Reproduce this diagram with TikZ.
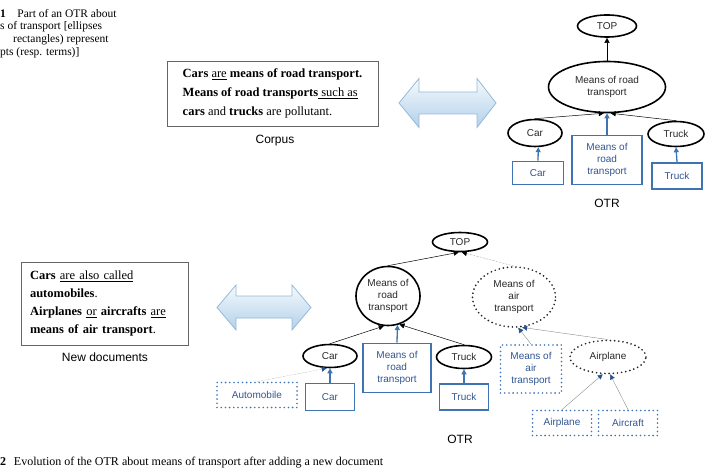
\documentclass[tikz,border=0pt]{standalone}
\usepackage{fontspec}
\setmainfont{Liberation Serif}
\newfontfamily\lsans{Liberation Sans}
\usetikzlibrary{shapes.geometric,arrows.meta}
\definecolor{tblue}{RGB}{62,116,178}
\definecolor{ttext}{RGB}{50,85,145}
\definecolor{ctext}{RGB}{40,40,40}
\definecolor{arrtop}{RGB}{245,250,253}
\definecolor{arrbot}{RGB}{178,208,234}
\definecolor{arredge}{RGB}{150,185,215}
\definecolor{linkgray}{RGB}{140,140,140}
\definecolor{headblue}{RGB}{40,80,140}
\begin{document}
\begin{tikzpicture}[x=1pt,y=-1pt,
 lab/.style={font=\lsans\fontsize{10}{12}\selectfont,align=center,inner sep=0pt},
 concept/.style={lab,ellipse,draw=black,line width=1.6pt,text=ctext},
 nconcept/.style={concept,draw=black!85,line width=1.9pt,line cap=round,dash pattern=on 0pt off 4.2pt},
 term/.style={lab,rectangle,draw=tblue,line width=1.9pt,text=ttext},
 nterm/.style={term,line width=1.8pt,line cap=round,dash pattern=on 0pt off 4.2pt},
 isa/.style={-{Triangle[length=5pt,width=5pt]},black,line width=0.5pt},
 tlink/.style={-{Triangle[length=5pt,width=5pt]},tblue,line width=1.3pt},
 nlink/.style={-{Triangle[length=5pt,width=5pt,color=headblue]},linkgray,line width=0.4pt},
 ndlink/.style={nlink,densely dotted},
 nisa/.style={-{Triangle[length=5pt,width=5pt,color=black]},linkgray,line width=0.5pt,densely dotted},
 txtbox/.style={draw=black!60,line width=0.7pt,align=left,inner sep=0pt},
 titletext/.style={font=\lsans\fontsize{12}{13}\selectfont,inner sep=0pt},
 captext/.style={font=\fontsize{11.5}{13}\selectfont,anchor=west,inner sep=0pt},
 dblarrow/.style={top color=arrtop,bottom color=arrbot,draw=arredge,line width=0.8pt,line join=miter}
]
\useasboundingbox (0,0) rectangle (706,470);

% captions (clipped in the reference)
\node[captext] (c1) at (0,13.5) {\textbf{1}\hspace{1em}Part of an OTR about};
\node[captext] (c2) at (0,26.5) {s of transport [ellipses};
\node[captext] (c3) at (13,39.5) {rectangles) represent};
\node[captext] (c4) at (0,52.5) {pts (resp. terms)]};
\node[captext,font=\fontsize{12}{13}\selectfont] (c5) at (0,463) {\textbf{2}\hspace{0.65em}Evolution of the OTR about means of transport after adding a new document};

% corpus box
\node[txtbox,minimum width=211pt,minimum height=65pt,font=\fontsize{12.5}{18.8}\selectfont] (corpus) at (272.5,93.5)
 {\textbf{Cars} \underline{are} \textbf{means of road transport.}\\
  \textbf{Means of road transports}\underline{ such as}\\
  \textbf{cars} and \textbf{trucks} are pollutant.};
\node[titletext] (corpusl) at (275,141) {Corpus};

% new documents box
\node[txtbox,minimum width=167pt,minimum height=83pt,text width=149pt,font=\fontsize{12.5}{17.7}\selectfont] (newdoc) at (104.5,303.5)
 {\textbf{Cars} \underline{are also called}\\
  \textbf{automobiles}.\\
  \textbf{Airplanes} \underline{or} \textbf{aircrafts} \underline{are}\\
  \textbf{means of air transport}.};
\node[titletext] (newdocl) at (105,357) {New documents};

% double arrows
\shade[dblarrow] (399,103) -- (419,78.5) -- (419,92) -- (477,92) -- (477,78.5) -- (496,103)
  -- (477,127.5) -- (477,114) -- (419,114) -- (419,127.5) -- cycle;
\shade[dblarrow] (217,307.5) -- (236,285) -- (236,296) -- (292,296) -- (292,285) -- (311,307.5)
  -- (292,330) -- (292,318) -- (236,318) -- (236,330) -- cycle;

% ---------- first OTR ----------
\node[concept,minimum width=59pt,minimum height=22pt] (top1) at (607,26) {TOP};
\node[concept,minimum width=117pt,minimum height=51pt] (mrt1) at (607,87) {Means of road\\transport};
\node[concept,minimum width=54pt,minimum height=27pt] (car1) at (535,133) {Car};
\node[concept,minimum width=56pt,minimum height=25pt] (truck1) at (676,134) {Truck};
\node[term,minimum width=51pt,minimum height=23pt] (carT1) at (538,173) {Car};
\node[term,minimum width=70pt,minimum height=49pt] (mrtT1) at (607,160) {Means of\\road\\transport};
\node[term,minimum width=50pt,minimum height=26pt] (truckT1) at (677,176) {Truck};
\node[titletext] (otr1) at (607,203) {OTR};

\draw[isa] (mrt1.north) -- (top1.south);
\draw[isa] (car1.north) -- (mrt1.263);
\draw[isa] (truck1.north) -- (mrt1.278);
\draw[tlink] (mrtT1.north) -- (mrt1.south);
\draw[tlink] (carT1.north) -- (car1.283);
\draw[tlink] (truckT1.north) -- (truck1.south);

% ---------- second OTR ----------
\node[concept,minimum width=55pt,minimum height=19pt] (top2) at (460,242) {TOP};
\node[concept,minimum width=64pt,minimum height=59pt] (mrt2) at (388,296) {Means of\\road\\transport};
\node[nconcept,minimum width=83pt,minimum height=60pt] (mat2) at (514,297) {Means of\\air\\transport};
\node[concept,minimum width=54pt,minimum height=23pt] (car2) at (330,356) {Car};
\node[concept,minimum width=55pt,minimum height=23pt] (truck2) at (464,357) {Truck};
\node[nconcept,minimum width=76pt,minimum height=33pt] (airp2) at (608,357) {Airplane};
\node[term,minimum width=68pt,minimum height=49pt] (mrtT2) at (397,368) {Means of\\road\\transport};
\node[term,minimum width=49pt,minimum height=27pt] (carT2) at (330,397) {Car};
\node[term,minimum width=49pt,minimum height=26pt] (truckT2) at (464,397) {Truck};
\node[nterm,minimum width=80pt,minimum height=25pt] (autoT2) at (257,395) {Automobile};
\node[nterm,minimum width=61pt,minimum height=48pt] (matT2) at (531,369) {Means of\\air\\transport};
\node[nterm,minimum width=59pt,minimum height=25pt] (airpT2) at (562,423) {Airplane};
\node[nterm,minimum width=59pt,minimum height=25pt] (aircT2) at (628,423) {Aircraft};
\node[titletext] (otr2) at (460,439) {OTR};

\draw[isa] (mrt2.north) -- (top2.263);
\draw[nisa] (mat2.north) -- (top2.280);
\draw[isa] (car2.north) -- (mrt2.262);
\draw[isa] (truck2.north) -- (mrt2.292);
\draw[tlink] (mrtT2.north) -- (mrt2.288);
\draw[tlink] (carT2.north) -- (car2.south);
\draw[tlink] (truckT2.north) -- (truck2.south);
\draw[ndlink] (autoT2.north) -- (car2.255);
\draw[nlink] (matT2.north) -- (mat2.278);
\draw[nlink] (airp2.north) -- (mat2.285);
\draw[nlink] (airpT2.north) -- (airp2.253);
\draw[nlink] (aircT2.north) -- (airp2.277);
\end{tikzpicture}
\end{document}
